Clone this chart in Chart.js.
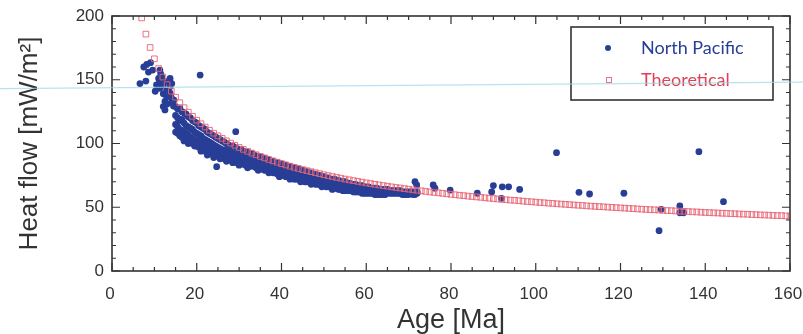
<!DOCTYPE html>
<html><head><meta charset="utf-8">
<script src="https://cdn.jsdelivr.net/npm/chart.js@4.4.1/dist/chart.umd.min.js"></script>
<style>html,body{margin:0;padding:0;background:#fff;}#wrap{width:803px;height:334px;position:relative;}</style>
</head><body><div id="wrap"><canvas id="c" width="803" height="334"></canvas></div>
<script>
const xTicks = [0, 20, 40, 60, 80, 100, 120, 140, 160];
const yTicks = [0, 50, 100, 150, 200];
const seriesNames = ['North Pacific', 'Theoretical'];
const xTitle = 'Age [Ma]';
const yTitle = 'Heat flow [mW/m\u00B2]';

// Theoretical curve, one value per Ma starting at 7 Ma
const theoStartAge = 7;
const theoHeat = [198.5,185.8,175.3,166.4,158.8,152.1,146.2,141.0,136.3,132.0,
128.1,124.6,121.3,118.3,115.5,112.9,110.4,108.1,106.0,104.0,
102.1,100.3,98.6,96.9,95.4,93.9,92.5,91.2,89.9,88.7,
87.5,86.4,85.3,84.2,83.2,82.2,81.3,80.4,79.5,78.7,
77.9,77.1,76.3,75.5,74.8,74.1,73.4,72.8,72.1,71.5,
70.9,70.3,69.7,69.1,68.6,68.0,67.5,67.0,66.5,66.0,
65.5,65.1,64.6,64.2,63.7,63.3,62.9,62.4,62.0,61.6,
61.3,60.9,60.5,60.1,59.8,59.4,59.1,58.7,58.4,58.1,
57.8,57.4,57.1,56.8,56.5,56.2,55.9,55.6,55.4,55.1,
54.8,54.5,54.3,54.0,53.7,53.5,53.2,53.0,52.7,52.5,
52.3,52.0,51.8,51.6,51.4,51.1,50.9,50.7,50.5,50.3,
50.1,49.9,49.7,49.5,49.3,49.1,48.9,48.7,48.5,48.3,
48.1,48.0,47.8,47.6,47.4,47.3,47.1,46.9,46.8,46.6,
46.4,46.3,46.1,45.9,45.8,45.6,45.5,45.3,45.2,45.0,
44.9,44.7,44.6,44.5,44.3,44.2,44.0,43.9,43.8,43.6,
43.5,43.4,43.2,43.1];

// North Pacific observations: young scattered points [age, heat flow]
const npYoung = [[6.6,147],[8.0,149],[7.5,160],[8.2,162],[9.1,163.4],[8.6,156],[9.6,157.6],
[11.3,157.6],[11.5,154.5],[11.7,152.4],[11.2,147.7],[10.5,146],[10.9,144.5],[11.3,143.3],
[13.7,151],[13.3,148.5],[14.1,147],[13.7,144.6],[12.1,146],[13.7,139.4],[12.9,136.7],
[14.1,132.8],[12.1,129],[12.5,126.3],[14.5,129.4],[12.5,133],[12.1,139],[12.9,142],
[12.5,148.5],[13.0,131],[14.0,136],[14.6,134],[10.2,141],[11.0,151]];

// North Pacific observations: dense band, ages and the heat flows seen at each age
const npBandAge = [15,15.5,16,16.5,17,17.5,18,18.5,19,19.5,20,20.5,21,21.5,22,22.5,23,23.5,24,24.5,
25,25.5,26,26.5,27,27.5,28,28.5,29,29.5,30,30.5,31,31.5,32,32.5,33,33.5,34,34.5,
35,35.5,36,36.5,37,37.5,38,38.5,39,39.5,40,40.5,41,41.5,42,42.5,43,43.5,44,44.5,
45,45.5,46,46.5,47,47.5,48,48.5,49,49.5,50,50.5,51,51.5,52,52.5,53,53.5,54,54.5,
55,55.5,56,56.5,57,57.5,58,58.5,59,59.5,60,60.5,61,61.5,62,62.5,63,63.5,64,64.5,
65,65.5,66,66.5,67,67.5,68,68.5,69,69.5,70,70.5,71,71.5,72];
const npBandHeat = [
[129,122,115,109],[127,120,113,108],[128,118,111,106],[125,119,110,105],[124,116,109,102],
[123,114,108,103],[121,113,107,100],[120,112,105,101],[118,111,104,100],[117,109,103,98],
[116,108,102,98],[114,107,101,97],[113,106,100,94],[112,104,99,95],[111,103,98,94],
[109,102,97,91],[108,101,96,93],[107,100,95,92],[106,99,94,89],[105,98,93,91],
[104,97,93,90],[103,96,92,88],[102,95,91,89],[101,95,91,88],[100,94,90,86],
[99,93,89,87],[98,93,89,87],[98,92,88,85],[97,91,88,86],[96,91,87,85],
[95,90,87,83],[95,89,86,84],[94,89,85,84],[93,88,85,83],[93,88,84,81],
[92,87,84,82],[92,86,83],[91,86,82],[90,85,81],[90,85,79],
[89,84,80],[89,83,80],[88,83,79],[88,82,79],[87,82,77],
[86,81,78],[86,81,77],[85,80,77],[85,80,76],[84,79,74],
[84,79,75],[83,78,75],[83,78,74],[82,77,74],[82,77,72],
[81,76,73],[81,76,72],[80,75,72],[80,75,72],[79,74,70],
[79,74,71],[78,74,70],[78,73,70],[77,73,70],[77,72,68],
[76,72,69],[76,71,68],[75,71,68],[75,71,68],[74,70,66],
[74,70,67],[73,69,66],[73,69,66],[72,69,66],[72,68,64],
[72,68,65],[71,68,65],[71,67,64],[70,67,64],[70,66,63],
[70,66,63],[69,66,63],[69,65,63],[68,65,63],[68,65,62],
[68,64,62],[67,64,62],[67,64,62],[67,64,61],[66,63,61],
[66,63,61],[66,63,61],[65,63,61],[65,63,61],[65,62,60],
[65,62,60],[64,62,60],[64,62,60],[64,62,60],[64,62,60],
[64,62],[63,61],[63,61],[63,61],[63,61],
[63,61],[63,61],[62,60],[62,60],[62,60],
[62,60],[62,61],[62,60],[62,60],[62,61]];

// North Pacific observations: isolated points [age, heat flow]
const npIsolated = [[20.8,153.7],[24.7,81.8],[29.2,109.3],[71.5,70],[71.9,67.5],[75.8,67.5],[76.2,65],
[79.8,63.5],[86.2,61],[89.6,62],[90,67],[92.1,66],[93.6,66],[91.9,57],[96.2,64],[104.9,92.8],
[110.2,61.7],[112.7,60.4],[120.8,61],[129.6,48.4],[129.1,31.6],[134,51],[134,45.7],[134.9,45.7],
[138.5,93.6],[144.3,54.4]];

const npColor = 'rgb(40,62,150)';
const theoColor = 'rgba(232,100,115,0.9)';

const npData = [];
npYoung.forEach(p => npData.push({x: p[0], y: p[1]}));
npBandAge.forEach((a, i) => npBandHeat[i].forEach(h => npData.push({x: a, y: h})));
npIsolated.forEach(p => npData.push({x: p[0], y: p[1]}));
const theoData = theoHeat.map((h, i) => ({x: theoStartAge + i, y: h}));

const tickFont = {family: "'Liberation Sans', Arial, sans-serif", size: 17};
const decor = {
  id: 'decor',
  afterDraw(chart) {
    const ctx = chart.ctx, a = chart.chartArea;
    const xs = chart.scales.x, ys = chart.scales.y;
    ctx.save();
    // frame
    ctx.strokeStyle = '#333';
    ctx.lineWidth = 1.6;
    ctx.strokeRect(a.left, a.top, a.right - a.left, a.bottom - a.top);
    // inward ticks
    ctx.lineWidth = 1.2;
    ctx.beginPath();
    for (let v = xs.min; v <= xs.max; v += 5) {
      const px = xs.getPixelForValue(v);
      const len = (v % 20 === 0) ? 8 : 4;
      ctx.moveTo(px, a.bottom); ctx.lineTo(px, a.bottom - len);
      ctx.moveTo(px, a.top); ctx.lineTo(px, a.top + len);
    }
    for (let v = ys.min; v <= ys.max; v += 10) {
      const py = ys.getPixelForValue(v);
      const len = (v % 50 === 0) ? 8 : 4;
      ctx.moveTo(a.left, py); ctx.lineTo(a.left + len, py);
      ctx.moveTo(a.right, py); ctx.lineTo(a.right - len, py);
    }
    ctx.stroke();
    // legend
    const lx = a.right - 219, ly = a.top + 11, lw = 202, lh = 73;
    ctx.fillStyle = '#fff';
    ctx.fillRect(lx, ly, lw, lh);
    ctx.strokeStyle = '#333';
    ctx.lineWidth = 1.6;
    ctx.strokeRect(lx, ly, lw, lh);
    ctx.font = "18px Lato, 'Open Sans', sans-serif";
    ctx.textBaseline = 'middle';
    ctx.textAlign = 'left';
    ctx.fillStyle = npColor;
    ctx.beginPath(); ctx.arc(lx + 37, ly + 21, 3, 0, Math.PI * 2); ctx.fill();
    ctx.fillText(seriesNames[0], lx + 70, ly + 21);
    ctx.strokeStyle = theoColor; ctx.lineWidth = 1;
    ctx.strokeRect(lx + 35.5, ly + 50.5, 5, 5);
    ctx.fillStyle = 'rgb(226,62,84)';
    ctx.fillText(seriesNames[1], lx + 70, ly + 53);
    // scan line artifact
    ctx.strokeStyle = 'rgba(150,215,235,0.7)';
    ctx.lineWidth = 1.2;
    ctx.beginPath();
    ctx.moveTo(0, ys.getPixelForValue(143.1));
    ctx.lineTo(chart.width, ys.getPixelForValue(148.2));
    ctx.stroke();
    ctx.restore();
  }
};

new Chart(document.getElementById('c'), {
  type: 'scatter',
  data: {datasets: [
    {label: seriesNames[0], data: npData, order: 2, pointStyle: 'circle', pointRadius: 3.4,
     backgroundColor: npColor, borderColor: npColor, borderWidth: 0, pointHoverRadius: 3.4},
    {label: seriesNames[1], data: theoData, order: 1, pointStyle: 'rect', pointRadius: 4,
     backgroundColor: 'rgba(0,0,0,0)', borderColor: theoColor, borderWidth: 1, pointHoverRadius: 4}
  ]},
  options: {
    responsive: false, animation: false, devicePixelRatio: 1,
    layout: {padding: {left: 0, right: 13, top: 16, bottom: 0}},
    plugins: {legend: {display: false}, tooltip: {enabled: false}},
    scales: {
      x: {type: 'linear', min: 0, max: 160,
        afterBuildTicks: s => { s.ticks = xTicks.map(v => ({value: v})); },
        afterFit: s => { s.height = 63; s.paddingLeft = 0; s.paddingRight = 0; },
        grid: {display: false, drawTicks: false}, border: {display: false},
        ticks: {font: tickFont, color: '#333', padding: 13, maxRotation: 0, autoSkip: false, labelOffset: -2},
        title: {display: true, text: xTitle, color: '#333',
          font: {family: "'Liberation Sans', Arial, sans-serif", size: 27, lineHeight: 1.0},
          padding: {top: 0, bottom: 0}}
      },
      y: {type: 'linear', min: 0, max: 200,
        afterBuildTicks: s => { s.ticks = yTicks.map(v => ({value: v})); },
        afterFit: s => { s.width = 112; s.paddingTop = 0; s.paddingBottom = 0; },
        grid: {display: false, drawTicks: false}, border: {display: false},
        ticks: {font: tickFont, color: '#333', padding: 8, autoSkip: false},
        title: {display: true, text: yTitle, color: '#333',
          font: {family: "'Liberation Sans', Arial, sans-serif", size: 26, lineHeight: 1.2},
          padding: {top: 14, bottom: 0}}
      }
    }
  },
  plugins: [decor]
});
</script></body></html>
